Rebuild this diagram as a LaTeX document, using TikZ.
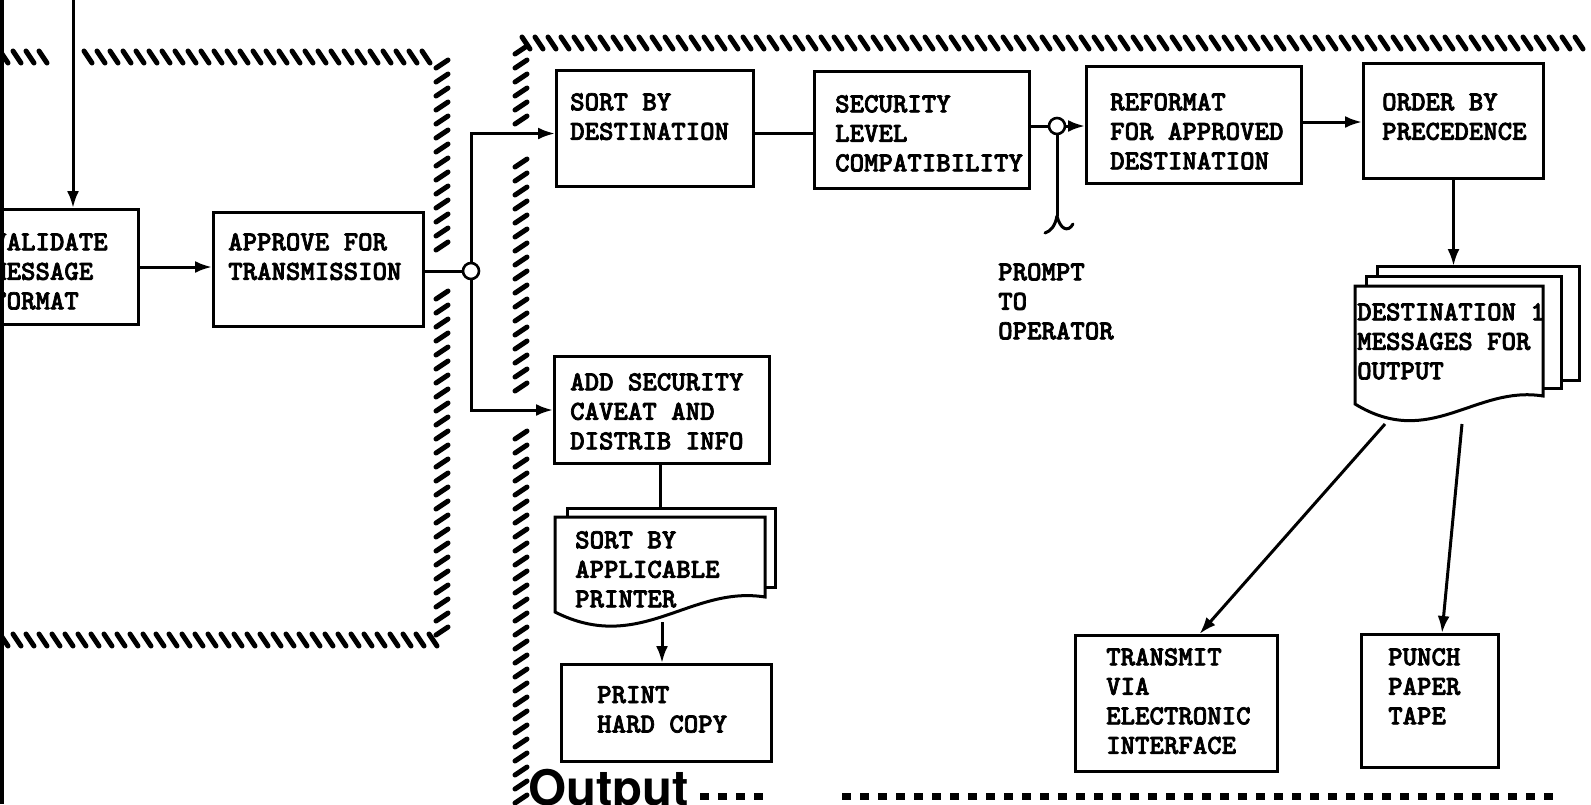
\documentclass[tikz,border=0pt]{standalone}
\usepackage{fontspec}
\newfontfamily\outfont{TeX Gyre Heros}
\newfontfamily\typefont{lmmonolt10-bold}[Extension=.otf, FakeBold=2.5]
\usetikzlibrary{arrows.meta}

% short slanted strokes along the edges of the hatched regions
\newcommand{\hatchrow}[3]{% x from #1 to #2, at y #3
  \pgfmathtruncatemacro{\hatchn}{(#2-#1)/13}
  \foreach \i in {0,...,\hatchn}
    \draw[hatch] ({#1+13*\i-4},{#3-6}) -- ({#1+13*\i+4},{#3+6});
}
\newcommand{\hatchcol}[3]{% at x #1, y from #2 to #3
  \pgfmathtruncatemacro{\hatchn}{(#3-#2)/14}
  \foreach \i in {0,...,\hatchn}
    \draw[hatch] ({#1-6},{#2+14*\i+4}) -- ({#1+6},{#2+14*\i-4});
}

\tikzset{
  procbox/.style={draw, line width=3pt, anchor=north west, inner sep=0pt},
  boxtext/.style={anchor=north west, inner sep=0pt, align=left,
    font=\typefont\bfseries\fontsize{27.5}{29.5}\selectfont},
  junction/.style={circle, draw, line width=2.6pt, fill=white, minimum size=16pt, inner sep=0pt},
  flow/.style={line width=3pt, -{Latex[length=17pt,width=12pt]}},
  link/.style={line width=3pt},
  hatch/.style={line width=5pt, line cap=round},
}

\begin{document}
\begin{tikzpicture}[x=1pt, y=-1pt]
\useasboundingbox (0,0) rectangle (1591,804);
\clip (0,0) rectangle (1591,804);

% page edge of the scan
\fill (0,0) rectangle (4,804);

% hatched borders
\hatchrow{4}{55}{57}
\hatchrow{88}{436}{57}
\hatchcol{442}{64}{250}
\hatchcol{442}{295}{636}
\hatchrow{4}{436}{640}
\hatchrow{526}{1591}{43}
\hatchcol{521}{50}{120}
\hatchcol{521}{163}{390}
\hatchcol{521}{435}{800}
\draw[line width=7pt, dash pattern=on 9pt off 9pt] (700,796) -- (771,796) (842,796) -- (1553,796);

% process boxes
\node[procbox, minimum width=167pt, minimum height=115pt] (validate) at (-30,208) {};
\node[boxtext] (validatetxt) at (-8,233) {VALIDATE\\MESSAGE\\FORMAT};
\node[procbox, minimum width=210pt, minimum height=114pt] (approve) at (212,211) {};
\node[boxtext] (approvetxt) at (228,233) {APPROVE FOR\\TRANSMISSION};
\node[procbox, minimum width=197pt, minimum height=116pt] (sortdest) at (555,69) {};
\node[boxtext] (sortdesttxt) at (570,93) {SORT BY\\DESTINATION};
\node[procbox, minimum width=215pt, minimum height=117pt] (seclevel) at (813,70) {};
\node[boxtext] (secleveltxt) at (835,95) {SECURITY\\LEVEL\\COMPATIBILITY};
\node[procbox, minimum width=215pt, minimum height=117pt] (reformat) at (1085,65) {};
\node[boxtext] (reformattxt) at (1110,93) {REFORMAT\\FOR APPROVED\\DESTINATION};
\node[procbox, minimum width=180pt, minimum height=115pt] (order) at (1362,62) {};
\node[boxtext] (ordertxt) at (1382,93) {ORDER BY\\PRECEDENCE};
\node[procbox, minimum width=215pt, minimum height=107pt] (caveat) at (553,355) {};
\node[boxtext] (caveattxt) at (570,373) {ADD SECURITY\\CAVEAT AND\\DISTRIB INFO};
\node[procbox, minimum width=210pt, minimum height=97pt] (print) at (560,663) {};
\node[boxtext] (printtxt) at (597,686) {PRINT\\HARD COPY};
\node[procbox, minimum width=202pt, minimum height=136pt] (transmit) at (1074,634) {};
\node[boxtext] (transmittxt) at (1106,648) {TRANSMIT\\VIA\\ELECTRONIC\\INTERFACE};
\node[procbox, minimum width=137pt, minimum height=133pt] (punch) at (1360,633) {};
\node[boxtext] (punchtxt) at (1388,648) {PUNCH\\PAPER\\TAPE};

% junctions
\node[junction] (split) at (471,271) {};
\node[junction] (check) at (1057,126) {};

% printer queue document
\draw[link, fill=white] (567,517) -- (567,508) -- (775,508) -- (775,587) -- (765,587);
\draw[link, fill=white] (555,517) -- (765,517) -- (765,597) .. controls (690,585) and (640,655) .. (555,612) -- cycle;
\node[boxtext] (queuetxt) at (575,531) {SORT BY\\APPLICABLE\\PRINTER};
\coordinate (queuein) at (660,508);
\coordinate (queueout) at (662,622);

% destination messages (stack of documents)
\draw[link, fill=white] (1377,276) -- (1377,266) -- (1579,266) -- (1579,380) -- (1561,380);
\draw[link, fill=white] (1366,286) -- (1366,276) -- (1561,276) -- (1561,388) -- (1543,388);
\draw[link, fill=white] (1355,286) -- (1543,286) -- (1543,396) .. controls (1475,385) and (1430,450) .. (1355,404) -- cycle;
\node[boxtext] (desttxt) at (1357,303) {DESTINATION 1\\MESSAGES FOR\\OUTPUT};
\coordinate (destin) at (1458,266);
\coordinate (destouta) at (1385,424);
\coordinate (destoutb) at (1462,424);

% operator prompt
\coordinate (prompt) at (1057,216);
\node[boxtext] (prompttxt) at (998,263) {PROMPT\\TO\\OPERATOR};

% connectors
\coordinate (inflow) at (73,0);
\draw[flow] (inflow) -- (inflow |- validate.north);
\draw[flow] (validate.east) -- (approve.west |- validate.east);
\draw[link] (approve.east |- split) -- (split.west);
\draw[flow] (split.north) |- ([yshift=-5pt]sortdest.west);
\draw[flow] (split.south) |- (caveat.west);
\draw[link] ([yshift=-5pt]sortdest.east) -- ([yshift=-5pt]sortdest.east -| seclevel.west);
\draw[link] (seclevel.east |- check) -- (check.west);
\draw[flow] (check.east) -- (check.east -| reformat.west);
\draw[link] (check.south) -- (prompt);
\draw[link, line cap=round] (prompt) .. controls (1055,226) and (1051,231) .. (1045,233);
\draw[link, line cap=round] (prompt) .. controls (1060,229) and (1068,233) .. (1073,224);
\draw[flow] ([yshift=3pt]reformat.east) -- ([yshift=3pt]reformat.east -| order.west);
\draw[flow] (order.south) -- (order.south |- destin);
\draw[flow] (destouta) -- ([xshift=23pt]transmit.north);
\draw[flow] (destoutb) -- ([xshift=12pt]punch.north);
\draw[link] (caveat.south -| queuein) -- (queuein);
\draw[flow] (queueout) -- (queueout |- print.north);

% region label
\node[anchor=base west, inner sep=0pt, font=\outfont\bfseries\fontsize{49}{52}\selectfont] (outlabel) at (528,805) {Output};
\end{tikzpicture}
\end{document}
